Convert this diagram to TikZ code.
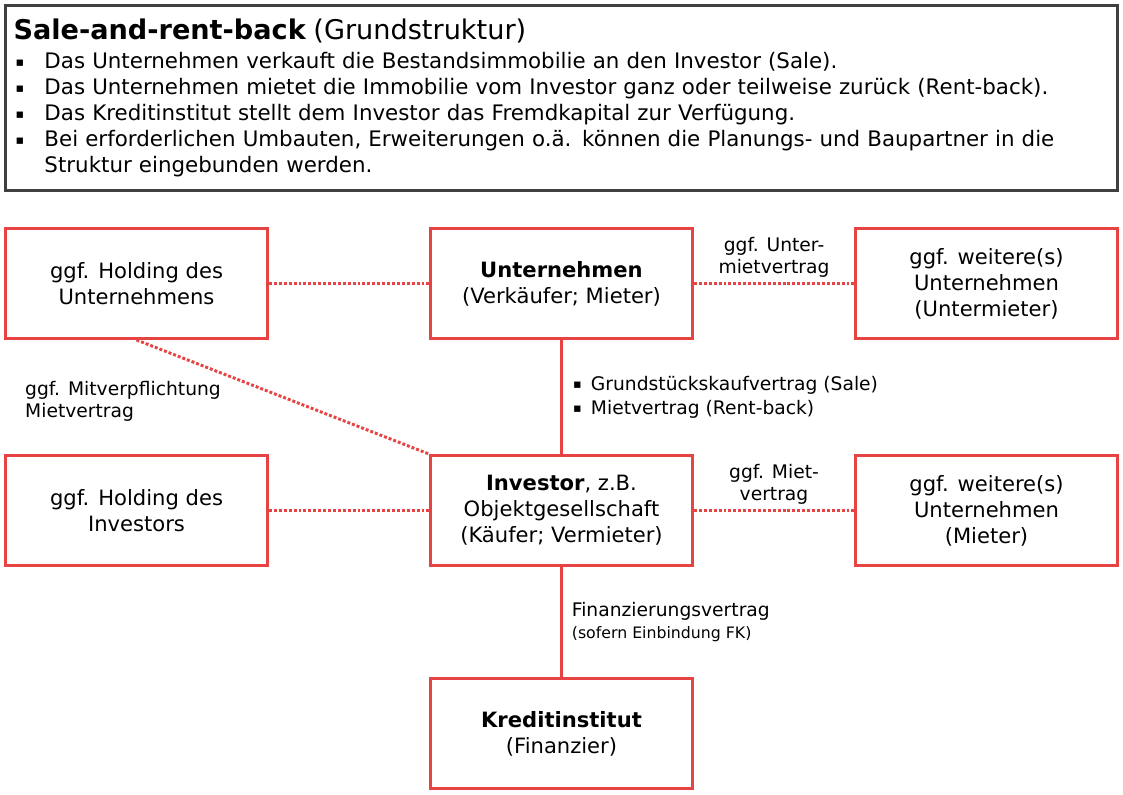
\documentclass[tikz,border=0pt]{standalone}
\usepackage{fontspec}
\setmainfont{DejaVu Sans}
\usepackage{tikz}
\usetikzlibrary{positioning}

\definecolor{boxred}{HTML}{E84343}
\definecolor{framegray}{HTML}{404040}
\newcommand{\smallsq}{\raisebox{0.1em}{\fontsize{9}{9}\selectfont ▪}}
\newcommand{\sqbullet}{\makebox[0.775cm][l]{\hspace{0.1em}\smallsq}}

\begin{document}
\begin{tikzpicture}[
    node distance=5.675cm and 10.625cm,
    on grid,
    party/.style={draw=boxred, line width=2.1pt, minimum width=6.55cm, minimum height=2.75cm,
        inner sep=0pt, align=center, font=\fontsize{15}{18.5}\selectfont},
    intro/.style={draw=framegray, line width=2.1pt, anchor=north west, outer sep=0pt,
        minimum width=27.8cm, minimum height=4.625cm, inner xsep=0.2cm,
        text width=27.4cm, align=left, font=\fontsize{15.2}{18.5}\selectfont},
    lbl/.style={font=\fontsize{13.3}{15.6}\selectfont, align=center},
    contract/.style={draw=boxred, line width=2.1pt},
    option/.style={draw=boxred, line width=2.1pt, dash pattern=on 2.1pt off 1.4pt}
]
\useasboundingbox (0,0) rectangle (28.075,-19.85);

% Kopfbox
\node[intro] (intro) at (0.1375,-0.1375) {%
    {\fontsize{19.3}{23}\selectfont\textbf{Sale-and-rent-back} (Grundstruktur)}\\[2pt]
    \sqbullet Das Unternehmen verkauft die Bestandsimmobilie an den Investor (Sale).\\
    \sqbullet Das Unternehmen mietet die Immobilie vom Investor ganz oder teilweise zurück (Rent-back).\\
    \sqbullet Das Kreditinstitut stellt dem Investor das Fremdkapital zur Verfügung.\\
    \sqbullet Bei erforderlichen Umbauten, Erweiterungen o.ä. können die Planungs- und Baupartner in die\\
    \hspace*{0.775cm}Struktur eingebunden werden.};

% Beteiligte
\node[party] (unternehmen) at (14.0375,-7.0875) {\textbf{Unternehmen}\\(Verkäufer; Mieter)};
\node[party, left=of unternehmen] (holdingU) {ggf. Holding des\\Unternehmens};
\node[party, right=of unternehmen] (weitereU) {ggf. weitere(s)\\Unternehmen\\(Untermieter)};
\node[party, below=of unternehmen] (investor) {\textbf{Investor}, z.B.\\Objektgesellschaft\\(Käufer; Vermieter)};
\node[party, left=of investor] (holdingI) {ggf. Holding des\\Investors};
\node[party, right=of investor] (weitereI) {ggf. weitere(s)\\Unternehmen\\(Mieter)};
\node[party, below=5.575cm of investor] (kredit) {\textbf{Kreditinstitut}\\(Finanzier)};

% Vertraege
\path
    (holdingU) edge[option] (unternehmen)
    (unternehmen) edge[option] node[lbl, above] {ggf. Unter-\\mietvertrag} (weitereU)
    (holdingI) edge[option] (investor)
    (investor) edge[option] node[lbl, above] {ggf. Miet-\\vertrag} (weitereI)
    (unternehmen) edge[contract] node[lbl, right, align=left, xshift=3.8pt,
        font=\fontsize{13.3}{17}\selectfont]
        {\smallsq\hspace{0.5em}Grundstückskaufvertrag (Sale)\\\smallsq\hspace{0.5em}Mietvertrag (Rent-back)} (investor)
    (investor) edge[contract] node[lbl, right, align=left, xshift=3pt, font=\fontsize{13.3}{15}\selectfont]
        {Finanzierungsvertrag\\{\fontsize{11.2}{13}\selectfont(sofern Einbindung FK)}} (kredit)
    (holdingU.south) edge[option] node[lbl, align=left, anchor=east, xshift=-1.395cm, yshift=-0.1cm]
        {ggf. Mitverpflichtung\\Mietvertrag} (investor.north west);

\end{tikzpicture}
\end{document}
